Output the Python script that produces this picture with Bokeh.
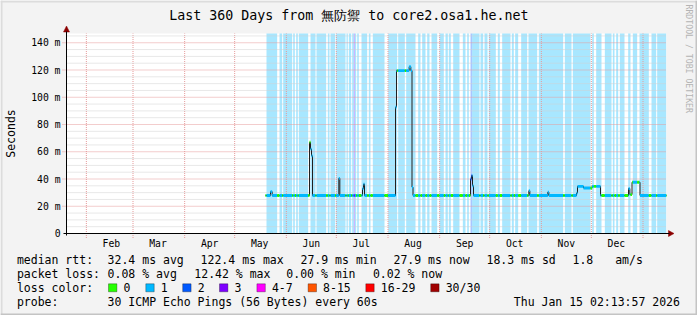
import datetime as dt
import math
from bokeh.plotting import figure
from bokeh.models import FixedTicker, Label, BoxAnnotation, LinearAxis, Range1d
from bokeh.embed import file_html
from bokeh.resources import INLINE

# ---------------- data ----------------
end_time = dt.datetime(2026, 1, 15, 2, 13, 57)
span_days = 360
start_time = end_time - dt.timedelta(days=span_days)

month_names = ["Feb", "Mar", "Apr", "May", "Jun", "Jul", "Aug", "Sep", "Oct", "Nov", "Dec"]
month_firsts = [dt.datetime(2025, m, 1) for m in range(2, 13)] + [dt.datetime(2026, 1, 1)]

y_max_ms = 146.8
y_major = [0, 20, 40, 60, 80, 100, 120, 140]
y_major_labels = ["0", "20 m", "40 m", "60 m", "80 m", "100 m", "120 m", "140 m"]
y_minor = [5, 10, 15, 25, 30, 35, 45, 50, 55, 65, 70, 75, 85, 90, 95, 105, 110, 115, 125, 130, 135, 145]

# median rtt (ms), step values: day offset since start -> value held until next point
rtt_day = [119.4, 122.4, 123.4, 145.8, 146.4, 147.0, 147.6, 163.4, 164.0, 177.6, 178.2, 178.8,
           197.4, 198.0, 205.6, 206.6, 207.3, 207.9, 242.4, 243.0, 243.6, 244.2, 277.4, 278.0,
           288.8, 289.4, 306.0, 306.6, 310.2, 315.4, 320.4, 337.2, 338.0, 339.3, 344.1]
rtt_ms = [27.9, 30.7, 27.9, 67.0, 62.0, 57.0, 27.9, 40.5, 27.9, 33.0, 36.3, 27.9,
          92.8, 119.6, 122.4, 119.6, 34.0, 27.9, 40.0, 42.5, 35.0, 27.9, 31.4, 27.9,
          30.4, 27.9, 29.7, 34.6, 33.4, 34.6, 27.9, 33.0, 28.5, 37.6, 27.9]

# packet-loss periods (day offsets) and their loss category index
loss_start = [120.0, 127.8, 130.0, 136.0, 137.8, 139.4, 146.4, 150.0, 156.8, 158.4, 161.8, 168.0,
              169.4, 171.4, 172.4, 173.0, 174.4, 177.0, 181.4, 183.8, 193.0, 199.0, 203.8, 211.0,
              213.4, 216.4, 219.0, 223.8, 227.4, 229.4, 232.0, 237.8, 240.4, 242.4, 243.4, 248.4,
              250.8, 253.4, 258.8, 261.4, 267.2, 269.2, 272.8, 277.2, 283.4, 299.0, 303.8, 315.4,
              317.8, 323.0, 327.8, 329.8, 332.0, 337.0, 339.8, 343.8, 351.0, 354.4]
loss_end = [126.4, 129.4, 135.4, 137.0, 138.8, 145.0, 149.4, 155.8, 157.8, 161.2, 167.4, 168.8,
            170.8, 172.4, 173.0, 173.8, 175.4, 180.4, 182.4, 190.8, 198.4, 203.0, 209.4, 212.4,
            215.4, 217.8, 222.4, 226.4, 228.8, 230.6, 235.8, 239.4, 241.4, 243.4, 247.8, 250.0,
            252.6, 257.6, 260.0, 266.4, 268.4, 271.0, 276.4, 282.4, 298.0, 303.0, 314.4, 316.4,
            321.0, 327.0, 328.8, 331.0, 334.8, 338.4, 342.4, 349.4, 353.8, 359.8]
loss_cat = [1, 1, 1, 1, 1, 1, 1, 1, 1, 1, 1, 1,
            1, 1, 3, 1, 1, 1, 1, 1, 1, 1, 1, 1,
            1, 1, 1, 1, 1, 1, 1, 1, 1, 2, 1, 1,
            1, 1, 1, 1, 1, 1, 1, 1, 1, 1, 1, 1,
            1, 1, 1, 1, 1, 1, 1, 1, 1, 1]

loss_labels = ["0", "1", "2", "3", "4-7", "8-15", "16-29", "30/30"]
loss_colors = ["#26ff00", "#00b8ff", "#0059ff", "#7e00ff", "#ff00ff", "#ff5500", "#ff0000", "#a00000"]

rtt_stats = [("32.4", "avg"), ("122.4", "max"), ("27.9", "min"), ("27.9", "now"), ("18.3", "sd")]
rtt_am_s = "1.8"
loss_stats = [("0.08", "avg"), ("12.42", "max"), ("0.00", "min"), ("0.02", "now")]
title_text = "Last 360 Days from 無防禦 to core2.osa1.he.net"
probe_text = "30 ICMP Echo Pings (56 Bytes) every 60s"
stamp_text = "Thu Jan 15 02:13:57 2026"

# ---------------- layout (pixels) ----------------
W, H = 697, 315
FL, FR, FT, FB = 66, 666, 33, 233      # data area inside the canvas
MONO = "DejaVu Sans Mono"


def px2x(px):
    return (px - FL) * span_days / (FR - FL)


def py2y(py):
    return (FB - py) * y_max_ms / (FB - FT)


def day_of(t):
    return (t - start_time).total_seconds() / 86400.0


grid_days = [day_of(t) for t in month_firsts]
label_days = [round(day_of(t) + 15, 2) for t in month_firsts[:-1]]

# frame covers the whole canvas; axes are pinned at the data origin
p = figure(width=W, height=H, x_range=Range1d(px2x(0), px2x(W)), y_range=Range1d(py2y(H), py2y(0)),
           output_backend="svg", toolbar_location=None, x_axis_location=None, y_axis_location=None,
           min_border=0)
p.background_fill_color = "#f3f3f3"
p.border_fill_color = "#f3f3f3"
p.outline_line_color = None
p.xgrid.visible = False
p.ygrid.visible = False

# outer 3D frame
p.add_layout(BoxAnnotation(left=px2x(0), right=px2x(W), top=py2y(0), bottom=py2y(2),
                           fill_color="#dcdcdc", fill_alpha=1, line_color=None, level="underlay"))
p.add_layout(BoxAnnotation(left=px2x(0), right=px2x(2), top=py2y(0), bottom=py2y(H),
                           fill_color="#dcdcdc", fill_alpha=1, line_color=None, level="underlay"))
p.add_layout(BoxAnnotation(left=px2x(0), right=px2x(W), top=py2y(H - 2), bottom=py2y(H),
                           fill_color="#c4c4c4", fill_alpha=1, line_color=None, level="underlay"))
p.add_layout(BoxAnnotation(left=px2x(W - 2), right=px2x(W), top=py2y(0), bottom=py2y(H),
                           fill_color="#c4c4c4", fill_alpha=1, line_color=None, level="underlay"))

# white canvas of the data area
canvas = p.quad(left=0, right=span_days, bottom=0, top=y_max_ms, fill_color="white", line_color=None)
canvas.level = "image"

# loss background bars
stripes = p.quad(left=loss_start, right=loss_end, bottom=0, top=y_max_ms,
                 fill_color=[loss_colors[c] for c in loss_cat], fill_alpha=0.34, line_color=None)
stripes.level = "image"

# grid lines (month starts, y ticks) - extended a little outside as tick marks
g1 = p.segment(x0=grid_days, y0=py2y(237.5), x1=grid_days, y1=y_max_ms,
               line_color="#e69a9a", line_dash="1 1", line_width=1)
g2 = p.segment(x0=px2x(62), y0=y_major[1:], x1=span_days, y1=y_major[1:],
               line_color="#e69a9a", line_dash="1 1", line_width=1)
g3 = p.segment(x0=0, y0=y_minor, x1=span_days, y1=y_minor,
               line_color="#d0d0d0", line_dash="1 1", line_width=1)
for g in (g3, g1, g2):
    g.level = "underlay"

# median line (black) and loss-coloured band
xs = rtt_day + [span_days]
ys = rtt_ms + [rtt_ms[-1]]
p.step(xs, ys, mode="after", line_color="#202020", line_width=1)

bps = sorted(set([d for d in rtt_day + loss_start + loss_end if d >= rtt_day[0]] + [span_days]))
half = 1.4 * y_max_ms / (FB - FT)
bl, br, bb, bt, bc = [], [], [], [], []
for a, b in zip(bps[:-1], bps[1:]):
    mid = 0.5 * (a + b)
    v = rtt_ms[0]
    for d, m in zip(rtt_day, rtt_ms):
        if d <= mid:
            v = m
    cat = 0
    for s, e, c in zip(loss_start, loss_end, loss_cat):
        if s <= mid < e:
            cat = c
    bl.append(a); br.append(b); bb.append(v - half); bt.append(v + half); bc.append(loss_colors[cat])
p.quad(left=bl, right=br, bottom=bb, top=bt, fill_color=bc, line_color=None)

# axes
xa = LinearAxis(fixed_location=0, bounds=(px2x(62.5), px2x(668.5)),
                ticker=FixedTicker(ticks=label_days, minor_ticks=[]))
xa.major_label_overrides = {d: n for d, n in zip(label_days, month_names)}
xa.major_tick_line_color = None
xa.minor_tick_line_color = None
xa.major_tick_out = 0
xa.major_tick_in = 0
xa.axis_line_color = "black"
xa.major_label_text_font = MONO
xa.major_label_text_font_size = "9.75px"
xa.major_label_text_color = "black"
xa.major_label_standoff = 4
p.add_layout(xa, "below")

ya = LinearAxis(fixed_location=0, bounds=(py2y(235), py2y(31)),
                ticker=FixedTicker(ticks=y_major, minor_ticks=[]))
ya.major_label_overrides = {v: s for v, s in zip(y_major, y_major_labels)}
ya.major_tick_line_color = None
ya.minor_tick_line_color = None
ya.major_tick_out = 0
ya.major_tick_in = 0
ya.axis_line_color = "black"
ya.major_label_text_font = MONO
ya.major_label_text_font_size = "9.75px"
ya.major_label_text_color = "black"
ya.major_label_standoff = 6
p.add_layout(ya, "left")

# arrow heads
p.patches(xs=[[px2x(66), px2x(63), px2x(69)], [px2x(673.5), px2x(668), px2x(668)]],
          ys=[[py2y(25.5), py2y(31.5), py2y(31.5)], [py2y(233), py2y(230), py2y(236)]],
          fill_color="#8b0000", line_color="#8b0000", line_width=0.5)


def txt(s, px, py, size="11.5px", align="left", angle=0.0, color="black"):
    p.add_layout(Label(x=px2x(px), y=py2y(py), text=s, text_font=MONO, text_font_size=size,
                       text_align=align, text_baseline="middle", angle=angle, text_color=color))


txt(title_text, 348.3, 15, size="13.3px", align="center")
txt("Seconds", 10.5, 133, align="center", angle=math.pi / 2)
txt("RRDTOOL / TOBI OETIKER", 688, 4, size="8.2px", angle=-math.pi / 2, color="#b4b4b4")

# legend rows
row1 = [("median rtt:", 16.4)] + [(f"{v} ms {k}", x) for (v, k), x in zip(rtt_stats, [107.1, 200.1, 300.0, 393.0, 486.0])] \
       + [(rtt_am_s, 572.0), ("am/s", 614.7)]
for s, x in row1:
    txt(s, x, 259.3)
row2 = [("packet loss:", 16.4)] + [(f"{v} % {k}", x) for (v, k), x in zip(loss_stats, [107.1, 193.8, 285.8, 372.4])]
for s, x in row2:
    txt(s, x, 273.3)
txt("loss color:", 16.4, 287.3)
box_x = [108.0, 145.3, 182.2, 219.0, 256.4, 307.6, 365.3, 430.2]
for lab, col, bx in zip(loss_labels, loss_colors, box_x):
    p.add_layout(BoxAnnotation(left=px2x(bx), right=px2x(bx + 8.4), bottom=py2y(291.3), top=py2y(283.3),
                               fill_color=col, fill_alpha=1.0, line_color="black", line_width=1))
    txt(lab, bx + 15, 287.3)
txt("probe:", 16.4, 301.3)
txt(probe_text, 107.1, 301.3)
txt(stamp_text, 513.3, 301.3)

open("out.html", "w").write(file_html(p, INLINE))
